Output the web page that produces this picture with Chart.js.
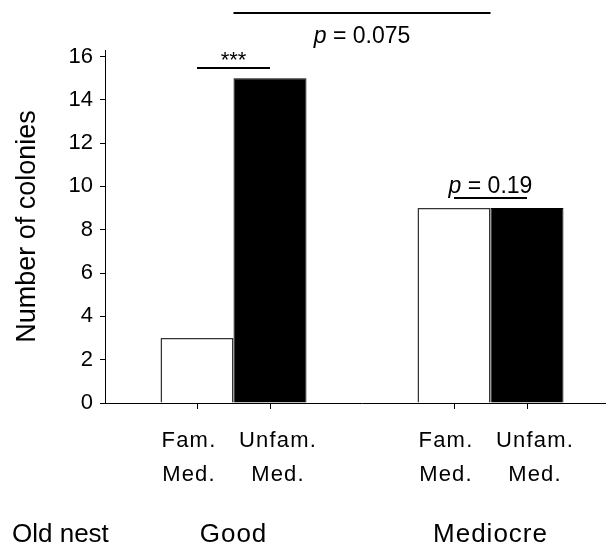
<!DOCTYPE html>
<html>
<head>
<meta charset="utf-8">
<script src="https://cdn.jsdelivr.net/npm/chart.js@4"></script>
<style>
  html, body { margin: 0; padding: 0; background: #fff; overflow: hidden; }
  #wrap { width: 619px; height: 545px; position: relative; }
</style>
</head>
<body>
<div id="wrap"><canvas id="chart"></canvas></div>
<script>
// data
const groups = ['Good', 'Mediocre'];
const seriesLabels = [['Fam.', 'Med.'], ['Unfam.', 'Med.']];
const famValues = [3, 9];
const unfamValues = [15, 9];
const yTicks = [0, 2, 4, 6, 8, 10, 12, 14, 16];
const withinLabels = ['***', 'p = 0.19'];   // within each group
const betweenLabel = 'p = 0.075';            // between groups
const rowTitle = 'Old nest';

const FONT = '"Liberation Sans", Arial, sans-serif';

function drawP(ctx, txt, cx, baseline, size){
  ctx.font = size + 'px ' + FONT;
  ctx.textBaseline = 'alphabetic';
  if(txt.startsWith('p')){
    const rest = txt.slice(1);
    ctx.font = 'italic ' + size + 'px ' + FONT;
    const wp = ctx.measureText('p').width;
    ctx.font = size + 'px ' + FONT;
    const wr = ctx.measureText(rest).width;
    let x = cx - (wp + wr) / 2;
    ctx.textAlign = 'left';
    ctx.font = 'italic ' + size + 'px ' + FONT;
    ctx.fillText('p', x, baseline);
    ctx.font = size + 'px ' + FONT;
    ctx.fillText(rest, x + wp, baseline);
  } else {
    ctx.textAlign = 'center';
    ctx.fillText(txt, cx, baseline);
  }
}

const extras = {
  id: 'extras',
  afterDraw(chart){
    const ctx = chart.ctx;
    const area = chart.chartArea;
    const xs = chart.scales.x, ys = chart.scales.y;
    const bars = [chart.getDatasetMeta(0).data, chart.getDatasetMeta(1).data];
    ctx.save();
    ctx.fillStyle = '#000';
    ctx.strokeStyle = '#000';
    ctx.lineWidth = 1;

    // tick marks under each bar + bar labels
    bars.forEach((set, s) => {
      set.forEach(bar => {
        ctx.beginPath();
        ctx.moveTo(Math.round(bar.x) + 0.5, area.bottom);
        ctx.lineTo(Math.round(bar.x) + 0.5, area.bottom + 6);
        ctx.stroke();
        const dx = s === 0 ? -8 : 8;
        ctx.font = '22px ' + FONT;
        ctx.letterSpacing = '1.2px';
        ctx.textAlign = 'center';
        ctx.textBaseline = 'alphabetic';
        ctx.fillText(seriesLabels[s][0], bar.x + dx, area.bottom + 44);
        ctx.fillText(seriesLabels[s][1], bar.x + dx, area.bottom + 78);
      });
    });

    // group labels
    ctx.font = '26px ' + FONT;
    ctx.letterSpacing = '1px';
    ctx.textAlign = 'center';
    groups.forEach((g, i) => {
      ctx.fillText(g, xs.getPixelForValue(i), area.bottom + 139);
    });
    ctx.letterSpacing = '0px';
    ctx.textAlign = 'left';
    ctx.fillText(rowTitle, 12, area.bottom + 139);

    // within-group comparisons
    ctx.lineWidth = 2;
    groups.forEach((g, i) => {
      const a = bars[0][i], b = bars[1][i];
      const top = Math.min(a.y, b.y);
      const ly = Math.round(top) - 10;
      ctx.beginPath();
      ctx.moveTo(a.x, ly);
      ctx.lineTo(b.x, ly);
      ctx.stroke();
      if(withinLabels[i] === '***'){
        ctx.font = '22px ' + FONT;
        ctx.textAlign = 'center';
        ctx.fillText('***', (a.x + b.x) / 2, ly - 1);
      } else {
        drawP(ctx, withinLabels[i], (a.x + b.x) / 2, ly - 5, 23);
      }
    });

    // between-group comparison
    const g0 = xs.getPixelForValue(0), g1 = xs.getPixelForValue(1);
    const ly = Math.round(ys.getPixelForValue(18));
    ctx.beginPath();
    ctx.moveTo(g0, ly);
    ctx.lineTo(g1, ly);
    ctx.stroke();
    drawP(ctx, betweenLabel, (g0 + g1) / 2, ly + 30, 23);
    ctx.restore();
  }
};

new Chart(document.getElementById('chart'), {
  type: 'bar',
  data: {
    labels: groups,
    datasets: [
      { label: 'Fam. Med.', data: famValues, backgroundColor: '#fff', borderColor: '#333', borderWidth: 1.5 },
      { label: 'Unfam. Med.', data: unfamValues, backgroundColor: '#000', borderColor: '#000', borderWidth: 1 }
    ]
  },
  options: {
    responsive: true,
    maintainAspectRatio: false,
    devicePixelRatio: 1,
    animation: false,
    layout: { padding: { top: 50, bottom: 134, left: 0, right: 0 } },
    plugins: { legend: { display: false }, tooltip: { enabled: false } },
    datasets: { bar: { barPercentage: 1, categoryPercentage: 0.568 } },
    scales: {
      x: {
        grid: { display: false },
        border: { display: true, color: '#000', width: 1 },
        ticks: { display: false }
      },
      y: {
        min: 0,
        max: 16.3,
        afterBuildTicks: s => { s.ticks = yTicks.map(v => ({ value: v })); },
        afterFit: s => { s.width = 105; },
        grid: { drawOnChartArea: false, drawTicks: true, tickLength: 5, color: '#000' },
        border: { display: true, color: '#000', width: 1 },
        ticks: { color: '#000', padding: 7, font: { family: FONT, size: 22 } },
        title: {
          display: true,
          text: 'Number of colonies',
          color: '#000',
          font: { family: FONT, size: 27 },
          padding: { top: 11, bottom: 0 }
        }
      }
    }
  },
  plugins: [extras]
});
</script>
</body>
</html>
